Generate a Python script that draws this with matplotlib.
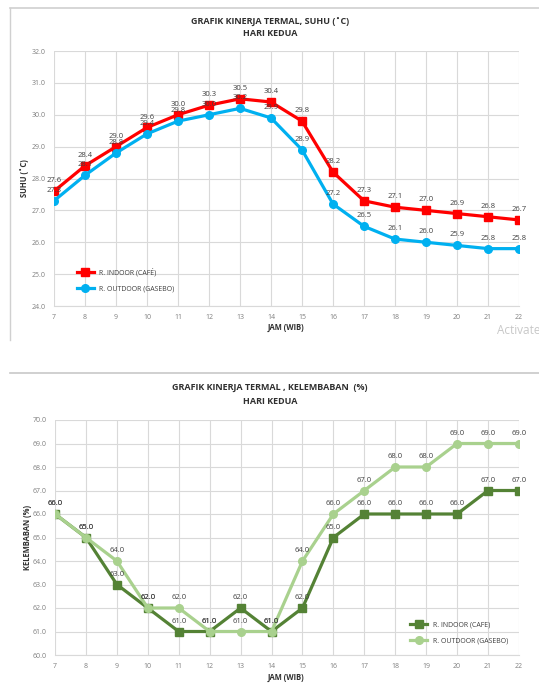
import matplotlib
matplotlib.use("Agg")
import matplotlib.pyplot as plt
from matplotlib.lines import Line2D

plt.rcParams['font.family'] = ['Open Sans', 'DejaVu Sans']

jam = [7, 8, 9, 10, 11, 12, 13, 14, 15, 16, 17, 18, 19, 20, 21, 22]

suhu_indoor = [27.6, 28.4, 29.0, 29.6, 30.0, 30.3, 30.5, 30.4, 29.8, 28.2, 27.3, 27.1, 27.0, 26.9, 26.8, 26.7]
suhu_outdoor = [27.3, 28.1, 28.8, 29.4, 29.8, 30.0, 30.2, 29.9, 28.9, 27.2, 26.5, 26.1, 26.0, 25.9, 25.8, 25.8]

rh_indoor = [66, 65, 63, 62, 61, 61, 62, 61, 62, 65, 66, 66, 66, 66, 67, 67]
rh_outdoor = [66, 65, 64, 62, 62, 61, 61, 61, 64, 66, 67, 68, 68, 69, 69, 69]

W, H = 539, 684
fig = plt.figure(figsize=(W / 100, H / 100), dpi=100)


def rect(x0, y0, x1, y1):
    return [x0 / W, 1 - y1 / H, (x1 - x0) / W, (y1 - y0) / H]


def style(ax, ylim, yticks):
    ax.set_xlim(7, 22)
    ax.set_ylim(*ylim)
    ax.set_xticks(jam)
    ax.set_yticks(yticks)
    ax.set_yticklabels(['%.1f' % v for v in yticks])
    ax.grid(True, color='#D9D9D9', lw=0.8)
    ax.set_axisbelow(True)
    for s in ax.spines.values():
        s.set_visible(False)
    ax.spines['bottom'].set_visible(True)
    ax.spines['bottom'].set_color('#D9D9D9')
    ax.tick_params(length=0, labelsize=5, colors='#7F7F7F', pad=6)


def labels(ax, xs, ys, off=5):
    for x, y in zip(xs, ys):
        ax.annotate('%.1f' % y, (x, y), xytext=(0, off), textcoords='offset points',
                    ha='center', va='bottom', fontsize=5.5, color='#404040')


# panel frame lines
fig.add_artist(Line2D([10 / W, 1], [1 - 8 / H, 1 - 8 / H], color='#D0D0D0', lw=1.2))
fig.add_artist(Line2D([10 / W, 10 / W], [1 - 8 / H, 1 - 340 / H], color='#D0D0D0', lw=1.0))
fig.add_artist(Line2D([10 / W, 1], [1 - 373 / H, 1 - 373 / H], color='#C8C8C8', lw=1.2))

# ---- temperature chart
ax1 = fig.add_axes(rect(54, 51, 519, 306))
style(ax1, (24, 32), [24, 25, 26, 27, 28, 29, 30, 31, 32])
ax1.plot(jam, suhu_indoor, color='#FF0000', marker='s', ms=5.5, lw=2.3, label='R. INDOOR (CAFÉ)')
ax1.plot(jam, suhu_outdoor, color='#00B0F0', marker='o', ms=5.5, lw=2.3, label='R. OUTDOOR (GASEBO)')
labels(ax1, jam, suhu_indoor)
labels(ax1, jam, suhu_outdoor)
ax1.legend(loc='lower left', bbox_to_anchor=(0.035, 0.03), frameon=False, fontsize=5,
           labelcolor='#404040', handlelength=2.5, labelspacing=1.2)
fig.text(270 / W, 1 - 22 / H, 'GRAFIK KINERJA TERMAL, SUHU (˚C)', ha='center', va='center',
         fontsize=6.5, fontweight='bold', color='#303030')
fig.text(270 / W, 1 - 33 / H, 'HARI KEDUA', ha='center', va='center',
         fontsize=6.5, fontweight='bold', color='#303030')
fig.text(25 / W, 1 - 178 / H, 'SUHU (˚C)', rotation=90, ha='center', va='center',
         fontsize=5.5, fontweight='bold', color='#303030')
fig.text(286 / W, 1 - 327 / H, 'JAM (WIB)', ha='center', va='center',
         fontsize=5.5, fontweight='bold', color='#303030')
fig.text(497 / W, 1 - 331 / H, 'Activate', ha='left', va='center', fontsize=8.5, color='#C8C8C8')

# ---- humidity chart
ax2 = fig.add_axes(rect(55, 420, 519, 655))
style(ax2, (60, 70), list(range(60, 71)))
ax2.plot(jam, rh_indoor, color='#548235', marker='s', ms=5.5, lw=2.3, label='R. INDOOR (CAFE)')
ax2.plot(jam, rh_outdoor, color='#A9D18E', marker='o', ms=5.5, lw=2.3, label='R. OUTDOOR (GASEBO)')
labels(ax2, jam, rh_indoor)
labels(ax2, jam, rh_outdoor)
ax2.legend(loc='lower right', bbox_to_anchor=(0.99, 0.02), frameon=False, fontsize=5,
           labelcolor='#404040', handlelength=2.5, labelspacing=1.2)
fig.text(270 / W, 1 - 388 / H, 'GRAFIK KINERJA TERMAL , KELEMBABAN  (%)', ha='center', va='center',
         fontsize=6.5, fontweight='bold', color='#303030')
fig.text(270 / W, 1 - 401 / H, 'HARI KEDUA', ha='center', va='center',
         fontsize=6.5, fontweight='bold', color='#303030')
fig.text(27 / W, 1 - 537 / H, 'KELEMBABAN (%)', rotation=90, ha='center', va='center',
         fontsize=5.5, fontweight='bold', color='#303030')
fig.text(286 / W, 1 - 677 / H, 'JAM (WIB)', ha='center', va='center',
         fontsize=5.5, fontweight='bold', color='#303030')

fig.savefig('out.png', dpi=100)
